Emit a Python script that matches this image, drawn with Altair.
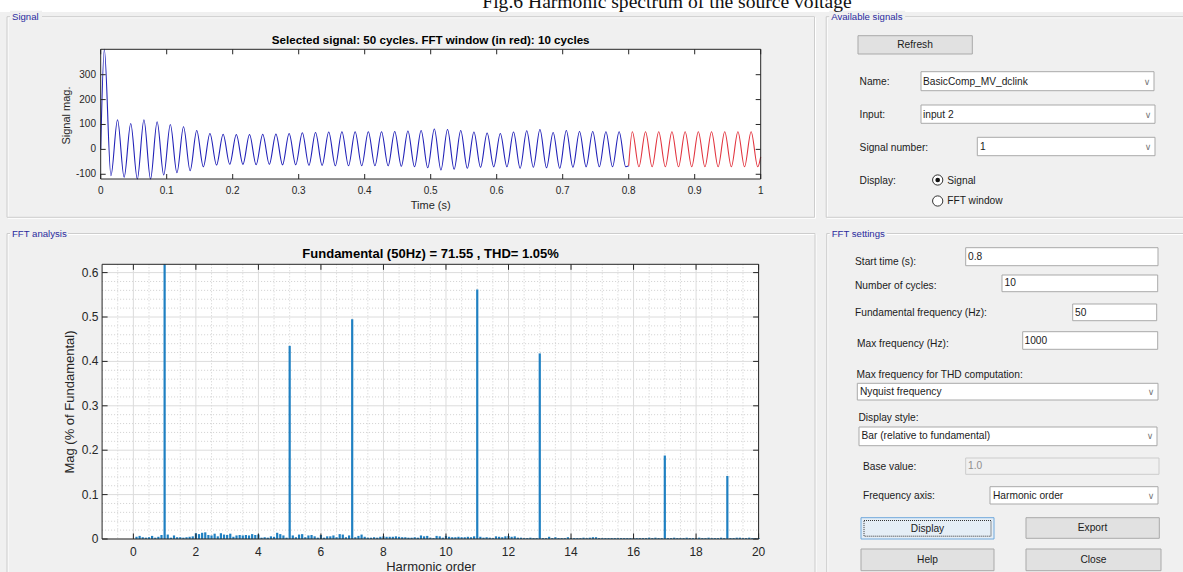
import altair as alt
import pandas as pd

W, H = 1183, 572
BG = "#f0f0f0"
FONT = "Liberation Sans"
INK = "#262626"

# ---------------- Signal: extrema ----------------
peak_t = [0.0055, 0.0255, 0.0455, 0.0655, 0.0855, 0.1055, 0.1255, 0.1455, 0.1655, 0.1855,
          0.2055, 0.2255, 0.2455, 0.2655, 0.2855, 0.3055, 0.3255, 0.3455, 0.3655, 0.3855,
          0.4055, 0.4255, 0.4455, 0.4655, 0.4855, 0.5055, 0.5255, 0.5455, 0.5655, 0.5855,
          0.6055, 0.6255, 0.6455, 0.6655, 0.6855, 0.7055, 0.7255, 0.7455, 0.7655, 0.7855,
          0.8055, 0.8255, 0.8455, 0.8655, 0.8855, 0.9055, 0.9255, 0.9455, 0.9655, 0.9855]
peak_v = [440, 119, 104, 119, 111, 100, 91, 76, 64, 61,
          60, 60, 61, 62, 64, 67, 68, 70, 71, 71,
          71, 71, 72, 74, 76, 82, 80, 76, 70, 66,
          64, 70, 75, 80, 68, 76, 72, 72, 71, 71,
          71, 71, 71, 71, 71, 71, 71, 71, 71, 71]
trough_t = [0.0155, 0.0355, 0.0555, 0.0755, 0.0955, 0.1155, 0.1355, 0.1555, 0.1755, 0.1955,
            0.2155, 0.2355, 0.2555, 0.2755, 0.2955, 0.3155, 0.3355, 0.3555, 0.3755, 0.3955,
            0.4155, 0.4355, 0.4555, 0.4755, 0.4955, 0.5155, 0.5355, 0.5555, 0.5755, 0.5955,
            0.6155, 0.6355, 0.6555, 0.6755, 0.6955, 0.7155, 0.7355, 0.7555, 0.7755, 0.7955,
            0.8155, 0.8355, 0.8555, 0.8755, 0.8955, 0.9155, 0.9355, 0.9555, 0.9755, 0.9955]
trough_v = [-106, -112, -122, -119, -103, -94, -86, -70, -63, -60,
            -60, -62, -60, -62, -62, -64, -64, -66, -66, -66,
            -66, -66, -68, -70, -74, -83, -80, -76, -72, -70,
            -70, -76, -72, -74, -76, -72, -70, -70, -70, -70,
            -70, -70, -70, -70, -70, -70, -70, -70, -70, -70]
sig_start = (0.0, 0.0)
sig_window_start = (0.8, -66)
sig_end = (1.0, -30)

sig_xticks = [0, 0.1, 0.2, 0.3, 0.4, 0.5, 0.6, 0.7, 0.8, 0.9, 1.0]
sig_xlabels = ["0", "0.1", "0.2", "0.3", "0.4", "0.5", "0.6", "0.7", "0.8", "0.9", "1"]
sig_yticks = [-100, 0, 100, 200, 300]
sig_ylabels = ["-100", "0", "100", "200", "300"]

# ---------------- FFT: magnitude (% of fundamental), bins of 0.1 harmonic ----------------
mag_rows = [
    [0.000, 0.005, 0.007, 0.004, 0.003, 0.004, 0.007, 0.003, 0.005, 0.009],
    [100.0, 0.010, 0.003, 0.008, 0.004, 0.004, 0.003, 0.004, 0.005, 0.006],
    [0.013, 0.011, 0.014, 0.015, 0.009, 0.008, 0.012, 0.006, 0.013, 0.010],
    [0.009, 0.012, 0.005, 0.008, 0.009, 0.008, 0.009, 0.008, 0.011, 0.009],
    [0.010, 0.003, 0.004, 0.003, 0.006, 0.005, 0.014, 0.011, 0.008, 0.003],
    [0.435, 0.008, 0.004, 0.010, 0.011, 0.004, 0.008, 0.009, 0.006, 0.003],
    [0.009, 0.003, 0.006, 0.006, 0.008, 0.004, 0.011, 0.010, 0.004, 0.008],
    [0.495, 0.004, 0.007, 0.010, 0.005, 0.003, 0.003, 0.004, 0.003, 0.005],
    [0.006, 0.005, 0.005, 0.005, 0.006, 0.005, 0.004, 0.004, 0.003, 0.003],
    [0.004, 0.003, 0.008, 0.006, 0.007, 0.003, 0.002, 0.007, 0.006, 0.003],
    [0.007, 0.005, 0.004, 0.004, 0.005, 0.004, 0.004, 0.005, 0.004, 0.006],
    [0.562, 0.005, 0.003, 0.004, 0.003, 0.002, 0.006, 0.005, 0.004, 0.006],
    [0.007, 0.005, 0.006, 0.003, 0.003, 0.002, 0.002, 0.003, 0.002, 0.002],
    [0.418, 0.002, 0.002, 0.005, 0.002, 0.004, 0.002, 0.002, 0.002, 0.004],
    [0.002, 0.002, 0.002, 0.002, 0.003, 0.002, 0.003, 0.004, 0.004, 0.002],
    [0.002, 0.002, 0.002, 0.002, 0.002, 0.002, 0.002, 0.002, 0.002, 0.002],
    [0.002, 0.002, 0.002, 0.002, 0.002, 0.003, 0.002, 0.003, 0.002, 0.002],
    [0.188, 0.002, 0.002, 0.003, 0.002, 0.002, 0.002, 0.003, 0.002, 0.002],
    [0.002, 0.003, 0.002, 0.002, 0.003, 0.002, 0.002, 0.002, 0.003, 0.002],
    [0.142, 0.002, 0.002, 0.003, 0.003, 0.002, 0.002, 0.003, 0.002, 0.002],
]
mag_last = 0.002  # bin at harmonic 20.0

fft_xticks = [0, 2, 4, 6, 8, 10, 12, 14, 16, 18, 20]
fft_xlabels = ["0", "2", "4", "6", "8", "10", "12", "14", "16", "18", "20"]
fft_yticks = [0, 0.1, 0.2, 0.3, 0.4, 0.5, 0.6]
fft_ylabels = ["0", "0.1", "0.2", "0.3", "0.4", "0.5", "0.6"]

sig_title = "Selected signal: 50 cycles. FFT window (in red): 10 cycles"
fft_title = "Fundamental (50Hz) = 71.55 , THD= 1.05%"
caption = "Fig.6 Harmonic spectrum of the source voltage"

# ---------------- layout (pixels) ----------------
SIG = dict(x0=100.7, x1=760.7, y0=49.3, y1=179.0)
FFT = dict(x0=102.1, x1=758.6, y0=264.3, y1=539.0)

one = pd.DataFrame({"a": [0]})
PX = alt.Scale(domain=[0, W], range=[0, W], nice=False, zero=False, padding=0)
PY = alt.Scale(domain=[0, H], range=[0, H], nice=False, zero=False, padding=0)


def ui_rects(rows, **mk):
    df = pd.DataFrame(rows, columns=["x", "x2", "y", "y2", "fill", "stroke"])
    return alt.Chart(df).mark_rect(**mk).encode(
        x=alt.X("x:Q", scale=PX, axis=None), x2="x2:Q",
        y=alt.Y("y:Q", scale=PY, axis=None), y2="y2:Q",
        fill=alt.Fill("fill:N", scale=None),
        stroke=alt.Stroke("stroke:N", scale=None),
    )


def ui_texts(rows, align="left", **mk):
    df = pd.DataFrame(rows, columns=["x", "y", "text", "color", "size"])
    return alt.Chart(df).mark_text(align=align, baseline="middle", font=FONT, **mk).encode(
        x=alt.X("x:Q", scale=PX, axis=None),
        y=alt.Y("y:Q", scale=PY, axis=None),
        text="text:N",
        color=alt.Color("color:N", scale=None),
        size=alt.Size("size:Q", scale=None),
    )


TR = "rgba(0,0,0,0)"
ETCH = "#cdcdcd"
BOX = "#a9a9a9"
BTN = "#e1e1e1"
panels = [
    ("Signal", 7, 814.5, 16.7, 217.3),
    ("Available signals", 826.2, 1200, 16.7, 217.3),
    ("FFT analysis", 7, 815, 233.5, 600),
    ("FFT settings", 826.7, 1200, 233.5, 600),
]
label_w = {"Signal": 28, "Available signals": 72, "FFT analysis": 54, "FFT settings": 53}

frame_rows = [(0, W, 0, 12, "white", TR)]
for name, x0, x1, y0, y1 in panels:
    frame_rows.append((x0 + 1, x1 + 1, y0 + 1, y1 + 1, TR, "white"))
    frame_rows.append((x0, x1, y0, y1, TR, ETCH))
for name, x0, x1, y0, y1 in panels:
    frame_rows.append((x0 + 3, x0 + 7 + label_w[name], y0 - 6, y0 + 6, BG, TR))

widget_rows = [
    (SIG["x0"], SIG["x1"], SIG["y0"], SIG["y1"], "white", TR),
    (FFT["x0"], FFT["x1"], FFT["y0"], FFT["y1"], "white", TR),
    (858, 972.3, 35.7, 54, BTN, BOX),            # Refresh
    (921, 1154, 71.7, 90.7, "white", BOX),       # Name
    (921, 1155, 105, 123.3, "white", BOX),       # Input
    (977.3, 1155, 137.3, 155.7, "white", BOX),   # Signal number
    (965.7, 1158, 247.7, 265.7, "white", BOX),   # Start time
    (1002, 1157.7, 275, 291.7, "white", BOX),    # cycles
    (1072.7, 1156.7, 304, 320.7, "white", BOX),  # fundamental
    (1022.7, 1157.7, 331.7, 349.3, "white", BOX),  # max freq
    (857.3, 1158, 383.3, 400, "white", BOX),     # Nyquist
    (859, 1157, 427, 445.7, "white", BOX),       # display style
    (965.7, 1159, 458, 474.3, BG, "#cccccc"),    # base value (disabled)
    (990, 1158, 486.7, 504, "white", BOX),       # freq axis
    (861, 994, 517.7, 539, "#e5eef6", "#6fa8dc"),  # Display (focused)
    (1026, 1159.3, 517.7, 538.3, BTN, BOX),      # Export
    (861, 994, 549, 570.7, BTN, BOX),            # Help
    (1026, 1161, 549, 570.7, BTN, BOX),          # Close
]
focus_rows = [(864, 991, 520.5, 536.2, TR, "#333333")]

LBL = "#1b1b1b"
GRP = "#2a2a9e"
left_texts = [
    ("Name:", 859.6, 81.5), ("Input:", 859.6, 114.5), ("Signal number:", 859.6, 147.5),
    ("Display:", 859.6, 180.5), ("Signal", 947.3, 180.5), ("FFT window", 947.3, 201),
    ("BasicComp_MV_dclink", 923, 81.5), ("input 2", 923, 114.5), ("1", 980, 147),
    ("Start time (s):", 855, 262), ("0.8", 968, 256.5),
    ("Number of cycles:", 855, 285.5), ("10", 1004.5, 283),
    ("Fundamental frequency (Hz):", 855, 312.5), ("50", 1075, 312.5),
    ("Max frequency (Hz):", 857, 343.5), ("1000", 1024.5, 340.5),
    ("Max frequency for THD computation:", 856.5, 375),
    ("Nyquist frequency", 860, 391.7),
    ("Display style:", 858.5, 418.3),
    ("Bar (relative to fundamental)", 861.5, 436.3),
    ("Base value:", 863, 467),
    ("Frequency axis:", 863, 496),
    ("Harmonic order", 993, 495.5),
]
ltext_rows = [(x, y, t, LBL, 10.2) for t, x, y in left_texts]
ltext_rows.append((968, 466, "1.0", "#8f8f8f", 10.2))
for name, x0, x1, y0, y1 in panels:
    ltext_rows.append((x0 + 5, y0, name, GRP, 9.6))

ctext_rows = [
    (915, 45, "Refresh", LBL, 10.2),
    (927.5, 528.5, "Display", LBL, 10.2),
    (1092.5, 528.2, "Export", LBL, 10.2),
    (927.5, 560, "Help", LBL, 10.2),
    (1093.5, 560, "Close", LBL, 10.2),
]
arrow_rows = [(1147, 81.5, "∨", "#777777", 9), (1148, 114.5, "∨", "#777777", 9),
              (1148, 147, "∨", "#777777", 9), (1151, 391.7, "∨", "#777777", 9),
              (1150, 436.3, "∨", "#777777", 9), (1151, 495.5, "∨", "#777777", 9)]

ui_bg = alt.layer(
    ui_rects(frame_rows, strokeWidth=1),
    ui_rects(widget_rows, strokeWidth=1),
    ui_rects(focus_rows, strokeWidth=1, strokeDash=[1, 1]),
)
ui_fg = alt.layer(
    ui_texts(ltext_rows, align="left"),
    ui_texts(ctext_rows, align="center"),
    alt.Chart(pd.DataFrame(arrow_rows, columns=["x", "y", "text", "color", "size"])).mark_text(
        align="center", baseline="middle", font="DejaVu Sans").encode(
        x=alt.X("x:Q", scale=PX, axis=None), y=alt.Y("y:Q", scale=PY, axis=None),
        text="text:N", color=alt.Color("color:N", scale=None), size=alt.Size("size:Q", scale=None)),
    alt.Chart(one).mark_text(font="Liberation Serif", fontSize=19.6, align="center",
                             baseline="alphabetic", color="#111111").encode(
        x=alt.value(667), y=alt.value(7.6), text=alt.value(caption)),
    alt.Chart(pd.DataFrame({"y": [180, 201]})).mark_point(
        shape="circle", size=105, filled=True, fill="white", stroke="#333333",
        strokeWidth=1, opacity=1).encode(
        x=alt.value(937.7), y=alt.Y("y:Q", scale=PY, axis=None)),
    alt.Chart(one).mark_point(shape="circle", size=22, filled=True, color="#111111",
                              opacity=1).encode(x=alt.value(937.7), y=alt.value(180)),
)

# ---------------- Signal plot ----------------
TS = alt.Scale(domain=[0, 1], range=[SIG["x0"], SIG["x1"]], nice=False, zero=False, padding=0)
VS = alt.Scale(domain=[-119, 402], range=[SIG["y1"], SIG["y0"]], nice=False, zero=False,
               clamp=True, padding=0)

pts = sorted([sig_start] + list(zip(peak_t, peak_v)) + list(zip(trough_t, trough_v)))
main_pts = [p for p in pts if p[0] < sig_window_start[0]] + [sig_window_start]
win_pts = [sig_window_start] + [p for p in pts if p[0] > sig_window_start[0]] + [sig_end]
main_df = pd.DataFrame(main_pts, columns=["t", "v"])
win_df = pd.DataFrame(win_pts, columns=["t", "v"])

sx = pd.DataFrame({"t": sig_xticks, "lab": sig_xlabels})
sy = pd.DataFrame({"v": sig_yticks, "lab": sig_ylabels})
TX = alt.X("t:Q", scale=TS, axis=None)
TY = alt.Y("v:Q", scale=VS, axis=None)
TL = 5

signal = alt.layer(
    alt.Chart(main_df).mark_line(color="#2222b8", strokeWidth=1.1, interpolate="monotone").encode(
        x=TX, y=TY, order="t:Q"),
    alt.Chart(win_df).mark_line(color="#e2343f", strokeWidth=1.1, interpolate="monotone").encode(
        x=TX, y=TY, order="t:Q"),
    alt.Chart(one).mark_rect(fill="transparent", stroke=INK, strokeWidth=1).encode(
        x=alt.value(SIG["x0"]), x2=alt.value(SIG["x1"]), y=alt.value(SIG["y0"]), y2=alt.value(SIG["y1"])),
    alt.Chart(sx).mark_rule(color=INK).encode(x=TX, y=alt.value(SIG["y1"]), y2=alt.value(SIG["y1"] - TL)),
    alt.Chart(sx).mark_rule(color=INK).encode(x=TX, y=alt.value(SIG["y0"]), y2=alt.value(SIG["y0"] + TL)),
    alt.Chart(sy).mark_rule(color=INK).encode(y=TY, x=alt.value(SIG["x0"]), x2=alt.value(SIG["x0"] + TL)),
    alt.Chart(sy).mark_rule(color=INK).encode(y=TY, x=alt.value(SIG["x1"]), x2=alt.value(SIG["x1"] - TL)),
    alt.Chart(sx).mark_text(font=FONT, fontSize=10, color=INK, align="center", baseline="middle").encode(
        x=TX, y=alt.value(190.8), text="lab:N"),
    alt.Chart(sy).mark_text(font=FONT, fontSize=10, color=INK, align="right", baseline="middle").encode(
        y=TY, x=alt.value(96), text="lab:N"),
    alt.Chart(one).mark_text(font=FONT, fontSize=11, color=INK, align="center", baseline="middle").encode(
        x=alt.value((SIG["x0"] + SIG["x1"]) / 2), y=alt.value(206), text=alt.value("Time (s)")),
    alt.Chart(one).mark_text(font=FONT, fontSize=11, color=INK, align="center", baseline="middle",
                             angle=270).encode(
        x=alt.value(67.3), y=alt.value(115.5), text=alt.value("Signal mag.")),
    alt.Chart(one).mark_text(font=FONT, fontSize=11.6, fontWeight="bold", color="#000000",
                             align="center", baseline="middle").encode(
        x=alt.value((SIG["x0"] + SIG["x1"]) / 2), y=alt.value(40.7), text=alt.value(sig_title)),
)

# ---------------- FFT plot ----------------
HS = alt.Scale(domain=[-1, 20], range=[FFT["x0"], FFT["x1"]], nice=False, zero=False, padding=0)
MS = alt.Scale(domain=[0, 0.6187], range=[FFT["y1"], FFT["y0"]], nice=False, zero=False,
               clamp=True, padding=0)

orders, mags = [], []
for k, row in enumerate(mag_rows):
    for j, m in enumerate(row):
        orders.append(round(k + j / 10, 1))
        mags.append(m)
orders.append(20.0)
mags.append(mag_last)
bars_df = pd.DataFrame({"h": orders, "m": mags})

minor_x = [x / 2 for x in range(-1, 40) if x % 4 != 0]
minor_y = [round(y / 50, 2) for y in range(1, 31) if y % 5 != 0]
fx = pd.DataFrame({"h": fft_xticks, "lab": fft_xlabels})
fy = pd.DataFrame({"m": fft_yticks, "lab": fft_ylabels})
HX = alt.X("h:Q", scale=HS, axis=None)
MY = alt.Y("m:Q", scale=MS, axis=None)
FL = 5.5

fft = alt.layer(
    alt.Chart(pd.DataFrame({"h": minor_x})).mark_rule(color="#c4c4c4", strokeWidth=0.8, strokeDash=[1, 2]).encode(
        x=HX, y=alt.value(FFT["y0"]), y2=alt.value(FFT["y1"])),
    alt.Chart(pd.DataFrame({"m": minor_y})).mark_rule(color="#c4c4c4", strokeWidth=0.8, strokeDash=[1, 2]).encode(
        y=MY, x=alt.value(FFT["x0"]), x2=alt.value(FFT["x1"])),
    alt.Chart(fx).mark_rule(color="#dcdcdc", strokeWidth=1).encode(
        x=HX, y=alt.value(FFT["y0"]), y2=alt.value(FFT["y1"])),
    alt.Chart(fy).mark_rule(color="#dcdcdc", strokeWidth=1).encode(
        y=MY, x=alt.value(FFT["x0"]), x2=alt.value(FFT["x1"])),
    alt.Chart(bars_df).mark_bar(size=2.2, color="#1f80c2").encode(x=HX, y=MY),
    alt.Chart(one).mark_rect(fill="transparent", stroke=INK, strokeWidth=1).encode(
        x=alt.value(FFT["x0"]), x2=alt.value(FFT["x1"]), y=alt.value(FFT["y0"]), y2=alt.value(FFT["y1"])),
    alt.Chart(fx).mark_rule(color=INK).encode(x=HX, y=alt.value(FFT["y1"]), y2=alt.value(FFT["y1"] - FL)),
    alt.Chart(fx).mark_rule(color=INK).encode(x=HX, y=alt.value(FFT["y0"]), y2=alt.value(FFT["y0"] + FL)),
    alt.Chart(fy).mark_rule(color=INK).encode(y=MY, x=alt.value(FFT["x0"]), x2=alt.value(FFT["x0"] + FL)),
    alt.Chart(fy).mark_rule(color=INK).encode(y=MY, x=alt.value(FFT["x1"]), x2=alt.value(FFT["x1"] - FL)),
    alt.Chart(fx).mark_text(font=FONT, fontSize=12, color=INK, align="center", baseline="middle").encode(
        x=HX, y=alt.value(551.7), text="lab:N"),
    alt.Chart(fy).mark_text(font=FONT, fontSize=12, color=INK, align="right", baseline="middle").encode(
        y=MY, x=alt.value(98.5), text="lab:N"),
    alt.Chart(one).mark_text(font=FONT, fontSize=13, color=INK, align="center", baseline="middle").encode(
        x=alt.value(431), y=alt.value(566.5), text=alt.value("Harmonic order")),
    alt.Chart(one).mark_text(font=FONT, fontSize=13, color=INK, align="center", baseline="middle",
                             angle=270).encode(
        x=alt.value(70), y=alt.value(402), text=alt.value("Mag (% of Fundamental)")),
    alt.Chart(one).mark_text(font=FONT, fontSize=13, fontWeight="bold", color="#000000",
                             align="center", baseline="middle").encode(
        x=alt.value(430.6), y=alt.value(254.3), text=alt.value(fft_title)),
)

chart = alt.layer(ui_bg, fft, signal, ui_fg).resolve_scale(
    x="independent", y="independent"
).properties(
    width=W, height=H, autosize="none", padding=0, background=BG
).configure_view(strokeWidth=0)

chart.save("out.html", embed_options={"renderer": "svg", "actions": False})
